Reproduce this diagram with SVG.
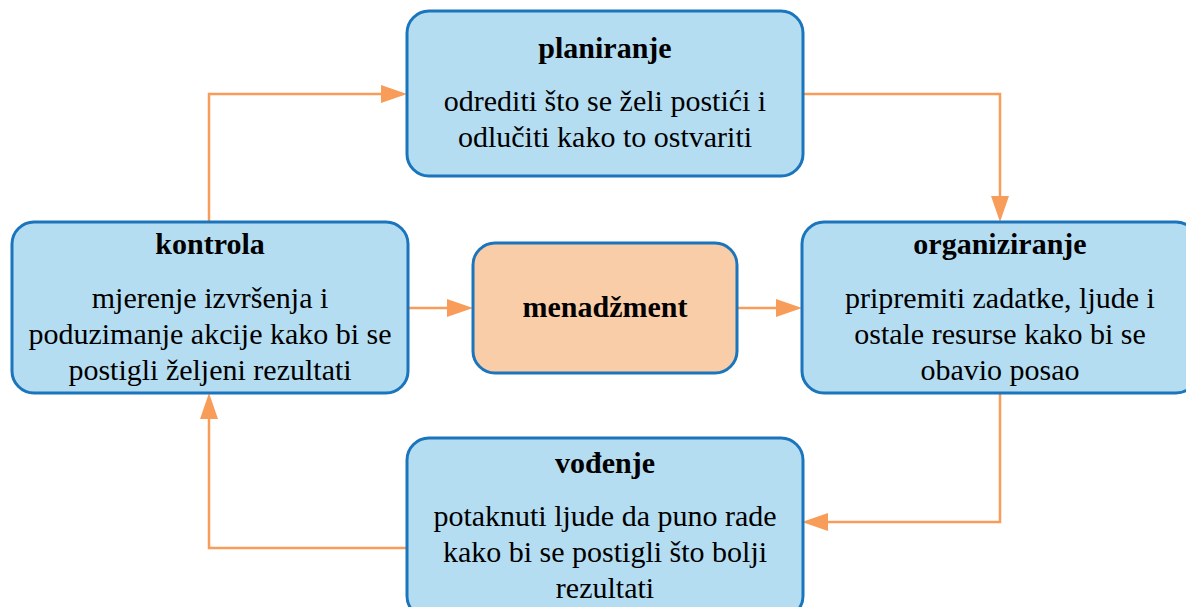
<svg xmlns="http://www.w3.org/2000/svg" width="1186" height="607" viewBox="0 0 1186 607">
<style>
.box{fill:#b5ddf2;stroke:#1b75bc;stroke-width:3}
.core{fill:#f9cda7;stroke:#1b75bc;stroke-width:3}
.c{fill:none;stroke:#f79d59;stroke-width:2.5}
.h{fill:#f79d59;stroke:none}
text{font-family:"Liberation Serif","Times New Roman",serif;font-size:30px;text-anchor:middle;fill:#000}
.t{font-weight:bold}
</style>
<defs>
<path id="ah" class="h" d="M0,0 L-26,-9 L-26,9 z"/>
</defs>
<g id="connectors">
<path class="c" d="M209,222 V94 H384"/>
<path class="c" d="M802,94 H1000 V200"/>
<path class="c" d="M1000,393 V522 H824"/>
<path class="c" d="M407,548 H209 V414"/>
<path class="c" d="M408,308 H450"/>
<path class="c" d="M737,308 H780"/>
<use href="#ah" transform="translate(407,94)"/>
<use href="#ah" transform="translate(1000,222) rotate(90)"/>
<use href="#ah" transform="translate(802,522) rotate(180)"/>
<use href="#ah" transform="translate(209,393) rotate(-90)"/>
<use href="#ah" transform="translate(473,308)"/>
<use href="#ah" transform="translate(802,308)"/>
</g>
<g id="planiranje">
<rect class="box" x="407" y="11" width="396" height="165" rx="22"/>
<text class="t" x="605" y="58">planiranje</text>
<text x="605" y="111">odrediti što se želi postići i</text>
<text x="605" y="147">odlučiti kako to ostvariti</text>
</g>
<g id="kontrola">
<rect class="box" x="12" y="222" width="396" height="171" rx="22"/>
<text class="t" x="210" y="254">kontrola</text>
<text x="210" y="308">mjerenje izvršenja i</text>
<text x="210" y="344">poduzimanje akcije kako bi se</text>
<text x="210" y="380">postigli željeni rezultati</text>
</g>
<g id="menadzment">
<rect class="core" x="473" y="243" width="264" height="130" rx="22"/>
<text class="t" x="605" y="317">menadžment</text>
</g>
<g id="organiziranje">
<rect class="box" x="802" y="222" width="396" height="171" rx="22"/>
<text class="t" x="1000" y="254">organiziranje</text>
<text x="1000" y="308">pripremiti zadatke, ljude i</text>
<text x="1000" y="344">ostale resurse kako bi se</text>
<text x="1000" y="380">obavio posao</text>
</g>
<g id="vodenje">
<rect class="box" x="407" y="438" width="396" height="180" rx="22"/>
<text class="t" x="605" y="473">vođenje</text>
<text x="605" y="526">potaknuti ljude da puno rade</text>
<text x="605" y="562">kako bi se postigli što bolji</text>
<text x="605" y="598">rezultati</text>
</g>
</svg>
